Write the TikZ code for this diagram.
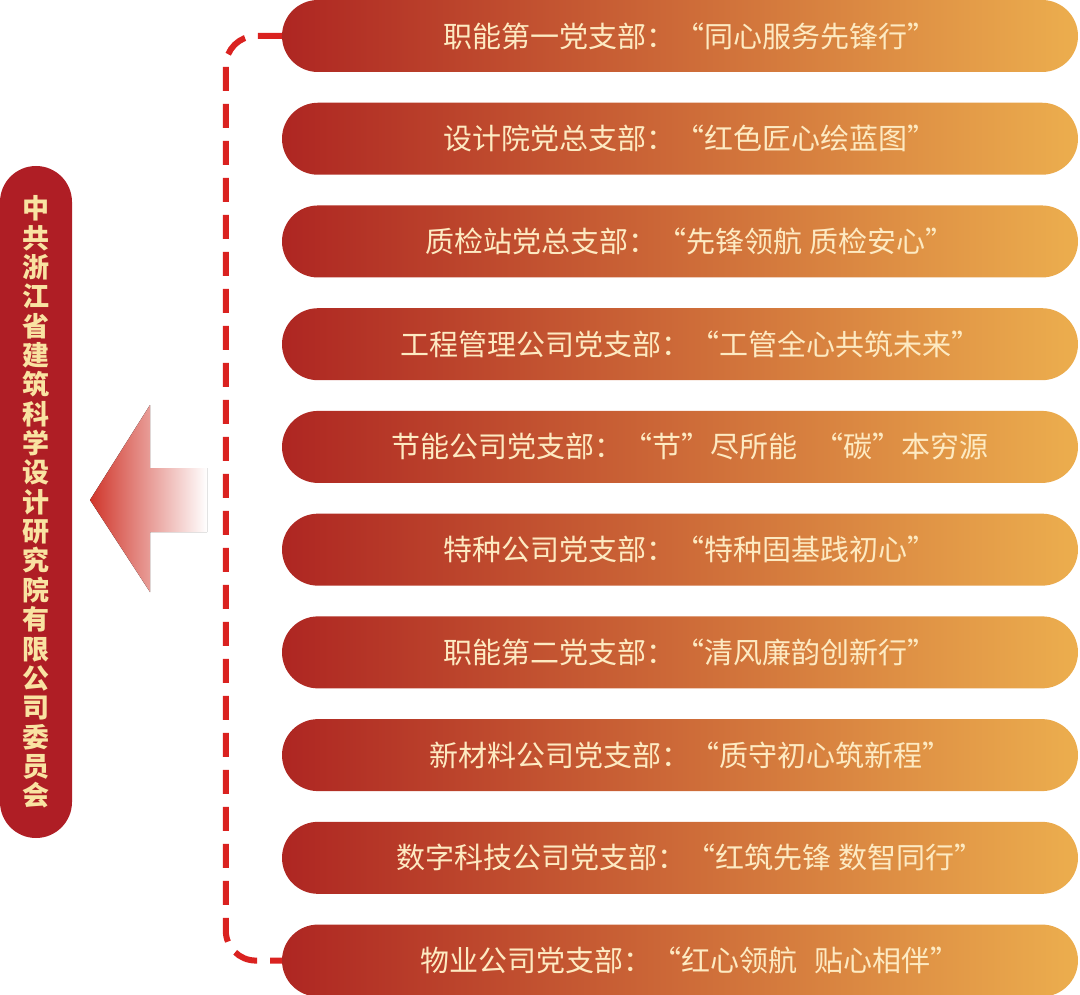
\documentclass[tikz,border=0pt]{standalone}
\usepackage{fontspec}
\setmainfont{Noto Sans CJK SC}
\usetikzlibrary{positioning}
\definecolor{pillred}{HTML}{AE2622}
\definecolor{pillorange}{HTML}{ECAE4E}
\definecolor{barred}{HTML}{AF1E25}
\definecolor{cream}{HTML}{FDEAC2}
\definecolor{titlecream}{HTML}{F9E3A2}
\definecolor{dashred}{HTML}{DA2220}
\definecolor{arrowred}{HTML}{D0362B}

\tikzstyle{pill}=[rectangle, rounded corners=36pt, minimum width=796pt, minimum height=72pt, inner sep=0pt,
  left color=pillred, right color=pillorange, text=cream, font=\fontsize{29pt}{31pt}\selectfont,
  execute at begin node={\hspace*{20pt}}]
\tikzstyle{titlebar}=[rectangle, rounded corners=36pt, minimum width=72pt, minimum height=672pt, inner sep=0pt,
  fill=barred, text=titlecream, align=center, font=\fontsize{27pt}{29.35pt}\selectfont\bfseries]
\tikzstyle{dashline}=[draw=dashred, line width=6pt, dash pattern=on 24pt off 13pt, rounded corners=30pt]

\begin{document}
\begin{tikzpicture}[x=1pt, y=-1pt, node distance=30.33pt]
  \useasboundingbox (0,0) rectangle (1080,995);
  \node[titlebar] (hq) at (36,502) {中\\共\\浙\\江\\省\\建\\筑\\科\\学\\设\\计\\研\\究\\院\\有\\限\\公\\司\\委\\员\\会};
  \fill[left color=arrowred, right color=white] (90,500) -- (150,405) -- (150,468) -- (207,468)
    -- (207,532) -- (150,532) -- (150,592) -- cycle;

  \node[pill] (p1) at (680,36) {职能第一党支部：“同心服务先锋行”};
  \node[pill, below=of p1] (p2) {设计院党总支部：“红色匠心绘蓝图”};
  \node[pill, below=of p2] (p3) {质检站党总支部：“先锋领航 质检安心”};
  \node[pill, below=of p3] (p4) {工程管理公司党支部：“工管全心共筑未来”};
  \node[pill, below=of p4] (p5) {节能公司党支部：“节”尽所能\hspace{18pt}“碳”本穷源};
  \node[pill, below=of p5] (p6) {特种公司党支部：“特种固基践初心”};
  \node[pill, below=of p6] (p7) {职能第二党支部：“清风廉韵创新行”};
  \node[pill, below=of p7] (p8) {新材料公司党支部：“质守初心筑新程”};
  \node[pill, below=of p8] (p9) {数字科技公司党支部：“红筑先锋 数智同行”};
  \node[pill, below=of p9] (p10) {物业公司党支部：“红心领航\hspace{18pt}贴心相伴”};

  \draw[dashline] (p1.west) -- ++(-56,0) |- (p10.west);
\end{tikzpicture}
\end{document}
